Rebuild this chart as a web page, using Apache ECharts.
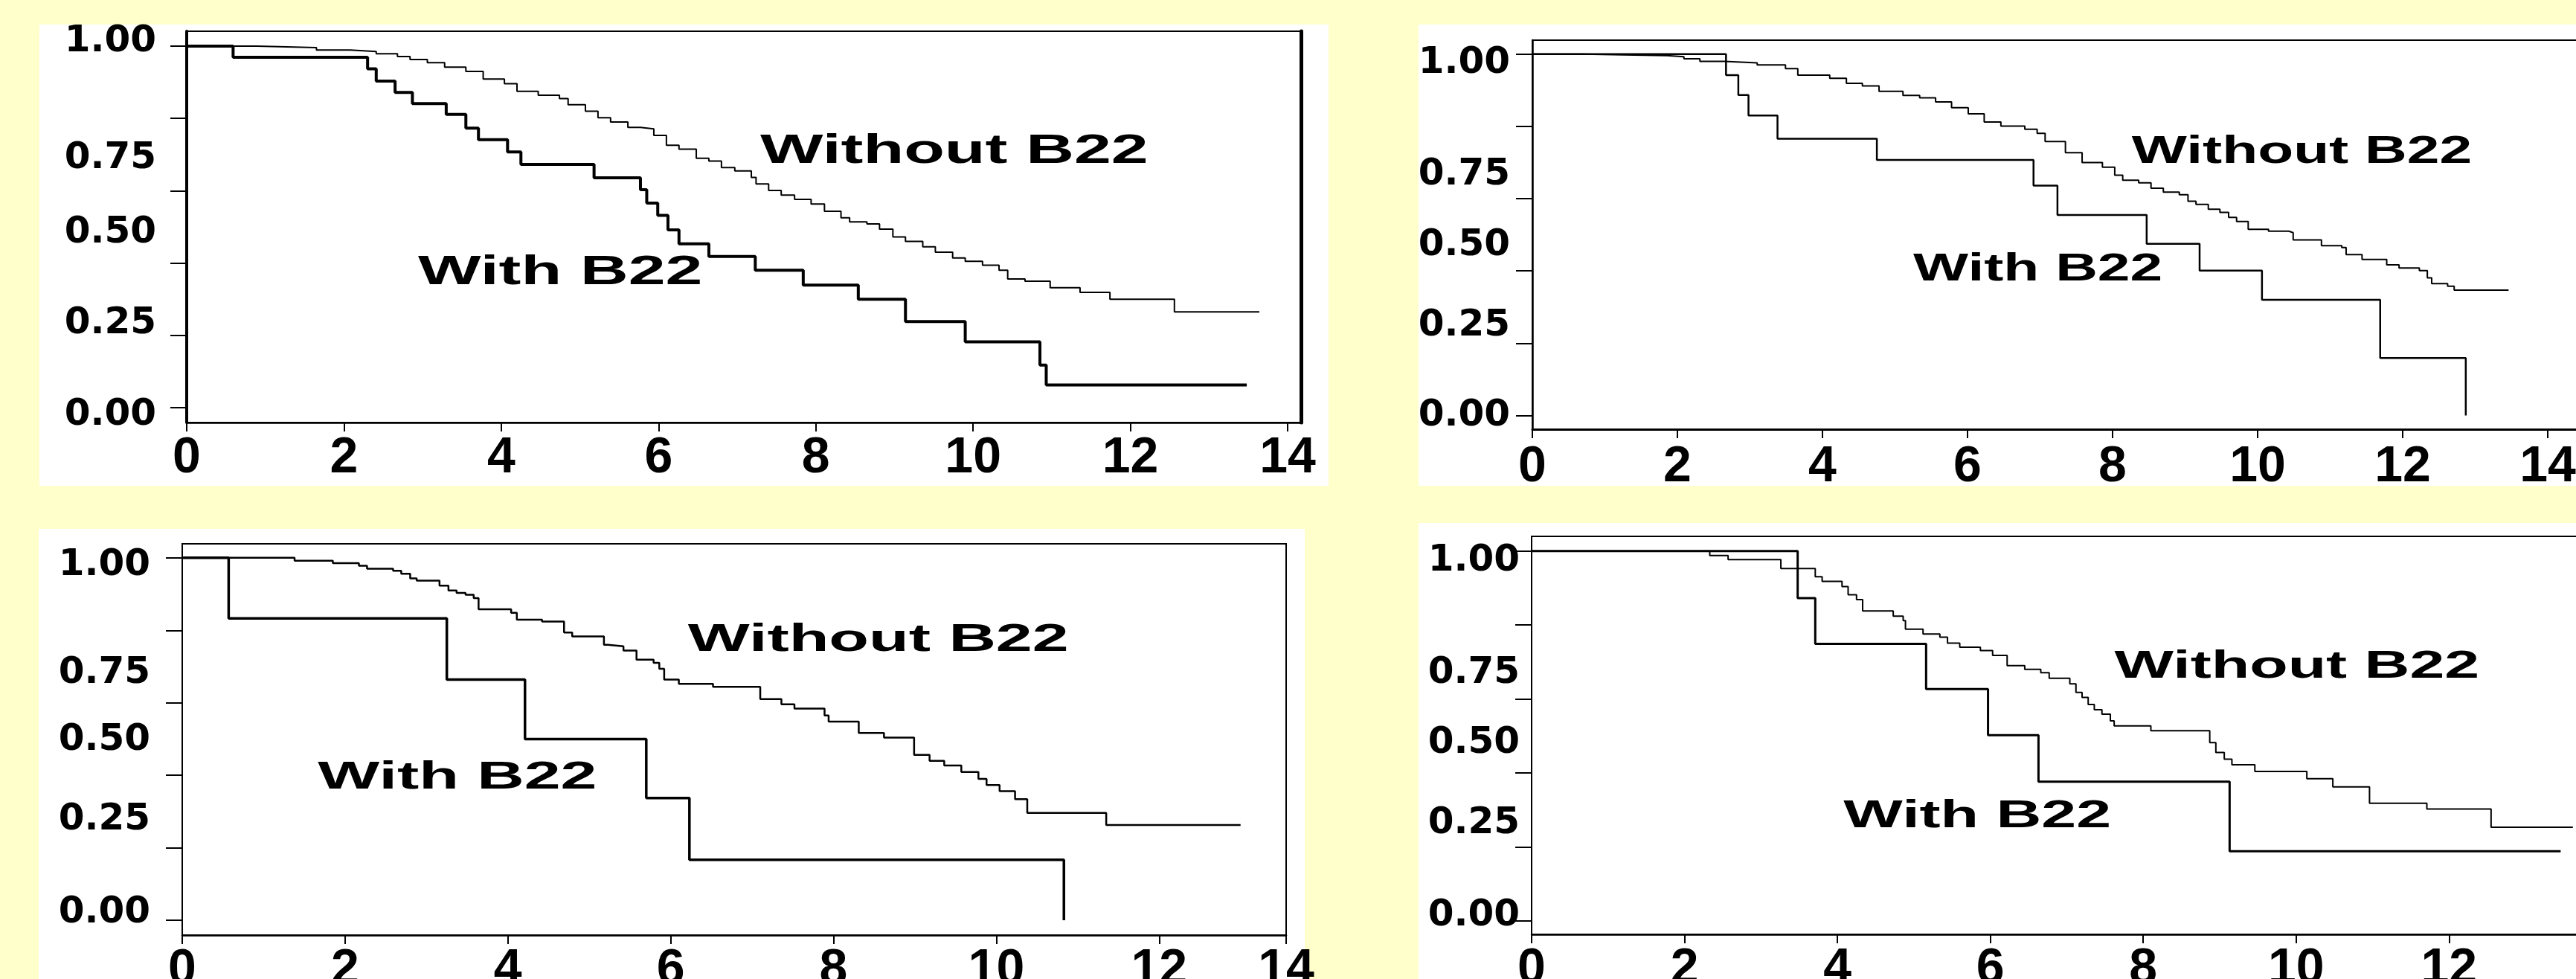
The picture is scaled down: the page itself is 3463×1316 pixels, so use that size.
<!DOCTYPE html>
<html>
<head>
<meta charset="utf-8">
<script src="https://cdn.jsdelivr.net/npm/echarts@6/dist/echarts.min.js"></script>
<style>
html,body{margin:0;padding:0;background:#FFFFCC;overflow:hidden;}
#chart{width:3463px;height:1316px;}
</style>
</head>
<body>
<div id="chart"></div>
<script>
// ---------------- DATA ----------------
const xTickValues = [0, 2, 4, 6, 8, 10, 12, 14];
const xTickLabels = ['0', '2', '4', '6', '8', '10', '12', '14'];
const yTickValues = [0, 0.2, 0.4, 0.6, 0.8, 1.0];
const yTickLabels = ['1.00', '0.75', '0.50', '0.25', '0.00'];
const annotationTexts = ['Without B22', 'With B22'];

// Panel 1 (top-left): [time, survival]
const p1Without = [[0,1.000],[0.89,0.996],[1.65,0.989],[2.08,0.985],[2.41,0.979],[2.68,0.971],[2.84,0.963],[3.06,0.954],[3.28,0.942],[3.55,0.930],[3.77,0.909],[4.04,0.896],[4.20,0.875],[4.47,0.864],[4.74,0.855],[4.85,0.838],[5.07,0.820],[5.23,0.802],[5.39,0.790],[5.61,0.775],[5.77,0.771],[5.94,0.753],[6.10,0.726],[6.26,0.715],[6.48,0.690],[6.64,0.682],[6.80,0.664],[6.97,0.655],[7.18,0.637],[7.24,0.619],[7.40,0.601],[7.56,0.588],[7.73,0.576],[7.94,0.563],[8.11,0.543],[8.32,0.525],[8.43,0.514],[8.65,0.508],[8.81,0.494],[8.98,0.472],[9.14,0.460],[9.36,0.445],[9.52,0.430],[9.74,0.414],[9.90,0.405],[10.12,0.394],[10.33,0.380],[10.44,0.356],[10.66,0.350],[10.98,0.332],[11.36,0.319],[11.74,0.300],[12.56,0.265],[13.64,0.265]];
const p1With = [[0,1.000],[0.59,0.969],[2.30,0.937],[2.41,0.903],[2.65,0.872],[2.87,0.841],[3.30,0.811],[3.55,0.773],[3.71,0.741],[4.08,0.707],[4.25,0.673],[5.18,0.636],[5.77,0.603],[5.85,0.566],[5.99,0.532],[6.12,0.492],[6.26,0.453],[6.64,0.418],[7.23,0.380],[7.84,0.339],[8.54,0.300],[9.14,0.238],[9.90,0.182],[10.85,0.118],[10.93,0.063],[13.48,0.063]];

// Panel 2 (top-right)
const p2Without = [[0,1.000],[0.69,0.998],[1.25,0.996],[1.86,0.993],[2.09,0.987],[2.31,0.980],[2.65,0.976],[3.10,0.970],[3.49,0.960],[3.66,0.942],[4.10,0.933],[4.33,0.919],[4.55,0.912],[4.78,0.897],[5.11,0.886],[5.34,0.879],[5.56,0.868],[5.78,0.852],[6.01,0.835],[6.23,0.812],[6.46,0.801],[6.79,0.792],[6.96,0.781],[7.07,0.758],[7.35,0.727],[7.58,0.700],[7.86,0.687],[8.03,0.665],[8.14,0.651],[8.36,0.644],[8.53,0.629],[8.70,0.618],[8.92,0.611],[9.04,0.593],[9.15,0.584],[9.32,0.571],[9.48,0.562],[9.60,0.548],[9.71,0.537],[9.87,0.515],[10.15,0.510],[10.43,0.506],[10.49,0.486],[10.88,0.470],[11.16,0.465],[11.22,0.445],[11.44,0.432],[11.78,0.417],[11.95,0.408],[12.23,0.401],[12.34,0.381],[12.40,0.365],[12.62,0.358],[12.71,0.347],[13.46,0.347]];
const p2With = [[0,1.000],[2.67,0.942],[2.84,0.887],[2.98,0.830],[3.38,0.766],[4.75,0.707],[6.91,0.636],[7.24,0.555],[8.47,0.475],[9.20,0.401],[10.06,0.320],[11.69,0.159],[12.87,0.000]];

// Panel 3 (bottom-left)
const p3Without = [[0,1.000],[1.38,0.992],[1.85,0.985],[2.17,0.978],[2.27,0.970],[2.59,0.964],[2.69,0.956],[2.80,0.943],[2.88,0.937],[3.16,0.923],[3.27,0.910],[3.37,0.903],[3.48,0.898],[3.58,0.889],[3.64,0.858],[4.04,0.848],[4.11,0.829],[4.42,0.824],[4.69,0.794],[4.79,0.783],[5.18,0.760],[5.23,0.756],[5.42,0.744],[5.58,0.719],[5.79,0.710],[5.86,0.694],[5.92,0.664],[6.10,0.652],[6.52,0.644],[7.10,0.610],[7.36,0.596],[7.52,0.584],[7.89,0.565],[7.94,0.548],[8.31,0.517],[8.62,0.504],[8.99,0.456],[9.18,0.440],[9.36,0.427],[9.57,0.409],[9.78,0.390],[9.88,0.373],[10.04,0.356],[10.23,0.334],[10.38,0.296],[11.35,0.263],[13.00,0.263]];
const p3With = [[0,1.000],[0.57,0.833],[3.25,0.664],[4.21,0.500],[5.70,0.337],[6.23,0.167],[10.83,0.000]];

// Panel 4 (bottom-right)
const p4Without = [[0,1.000],[2.33,0.988],[2.57,0.977],[3.26,0.953],[3.71,0.931],[3.80,0.918],[4.06,0.904],[4.14,0.882],[4.25,0.869],[4.33,0.838],[4.73,0.824],[4.86,0.812],[4.89,0.789],[5.12,0.776],[5.34,0.767],[5.44,0.751],[5.60,0.740],[5.87,0.731],[6.03,0.718],[6.22,0.690],[6.45,0.680],[6.66,0.671],[6.77,0.656],[7.04,0.641],[7.12,0.618],[7.20,0.604],[7.28,0.585],[7.36,0.571],[7.46,0.559],[7.57,0.541],[7.62,0.527],[8.10,0.514],[8.87,0.482],[8.95,0.455],[9.06,0.437],[9.16,0.422],[9.46,0.404],[10.14,0.384],[10.48,0.362],[10.96,0.318],[11.71,0.302],[12.55,0.253],[13.62,0.253]];
const p4With = [[0,1.000],[3.48,0.873],[3.71,0.749],[5.16,0.627],[5.97,0.502],[6.63,0.376],[9.13,0.188],[13.46,0.188]];

// ---------------- LAYOUT / STYLE ----------------
const panels = [
  { without: p1Without, withB: p1With,
    box: [53, 33, 1733, 620], grid: {left: 251, top: 42, width: 1498, height: 526},
    xMax: 14.17, yMin: -0.041, yMax: 1.041,
    xTickAt: [0,2,4,6,8,10,12,14], xLabelAt: [0,2,4,6,8,10,12,14],
    yLabelAt: [1.012, 0.689, 0.484, 0.233, -0.021], yLabelMargin: 41, xLabelMargin: 14,
    leftW: 4, bottomW: 2.5, rightThick: 5, widths: [2, 4],
    annotAt: [[9.76, 0.708], [4.75, 0.374]], annotFont: 56, annotScale: 1.60 },
  { without: p2Without, withB: p2With,
    box: [1907, 33, 1600, 620], grid: {left: 2060, top: 54, width: 1443, height: 523},
    xMax: 14.8, yMin: -0.038, yMax: 1.0386,
    xTickAt: [0,2,4,6,8,10,12,14], xLabelAt: [0,2,4,6,8,10,12,14],
    yLabelAt: [0.975, 0.667, 0.470, 0.249, -0.002], yLabelMargin: 30, xLabelMargin: 17,
    leftW: 2.5, bottomW: 3, rightThick: 0, widths: [2, 2.5],
    annotAt: [[10.61, 0.729], [6.97, 0.403]], annotFont: 52, annotScale: 1.51 },
  { without: p3Without, withB: p3With,
    box: [52, 711, 1702, 620], grid: {left: 245, top: 731, width: 1484, height: 526},
    xMax: 13.56, yMin: -0.041, yMax: 1.0386,
    xTickAt: [0,2,4,6,8,10,12,13.56], xLabelAt: [0,2,4,6,8,10,12,13.56],
    yLabelAt: [0.979, 0.682, 0.497, 0.278, 0.021], yLabelMargin: 43, xLabelMargin: 13,
    leftW: 2, bottomW: 2.5, rightThick: 0, widths: [2.5, 3.5],
    annotAt: [[8.55, 0.772], [3.38, 0.392]], annotFont: 52, annotScale: 1.69 },
  { without: p4Without, withB: p4With,
    box: [1907, 703, 1600, 620], grid: {left: 2059, top: 721, width: 1444, height: 535},
    xMax: 14.05, yMin: -0.037, yMax: 1.040,
    xTickAt: [0,2,4,6,8,10,12,14], xLabelAt: [0,2,4,6,8,10,12,14],
    yLabelAt: [0.973, 0.670, 0.480, 0.263, 0.013], yLabelMargin: 16, xLabelMargin: 13,
    leftW: 2, bottomW: 2.5, rightThick: 0, widths: [2, 3],
    annotAt: [[10.01, 0.686], [5.83, 0.281]], annotFont: 52, annotScale: 1.62 }
];

function nearestLabel(v, positions, labels) {
  let best = 0, bd = Infinity;
  positions.forEach((p, i) => { const d = Math.abs(p - v); if (d < bd) { bd = d; best = i; } });
  return labels[best];
}

const option = {
  backgroundColor: '#FFFFCC',
  animation: false,
  graphic: [],
  grid: [], xAxis: [], yAxis: [], series: []
};

panels.forEach((p, i) => {
  option.graphic.push({
    type: 'rect', z: -100, silent: true,
    shape: {x: p.box[0], y: p.box[1], width: p.box[2], height: p.box[3]},
    style: {fill: '#FFFFFF'}
  });
  option.grid.push(Object.assign({
    show: true, borderColor: '#000', borderWidth: 2, backgroundColor: 'transparent',
    containLabel: false, outerBoundsMode: 'none'
  }, p.grid));
  const xi = option.xAxis.length;
  option.xAxis.push({
    gridIndex: i, type: 'value', min: 0, max: p.xMax,
    axisLine: {show: true, onZero: false, lineStyle: {color: '#000', width: p.bottomW}},
    axisTick: {show: true, length: 12, customValues: p.xTickAt, lineStyle: {color: '#000', width: 2}},
    axisLabel: {
      show: true, customValues: p.xLabelAt, margin: p.xLabelMargin,
      formatter: v => nearestLabel(v, p.xLabelAt, xTickLabels),
      color: '#000', fontSize: 68, fontWeight: 'bold',
      fontFamily: '"Liberation Sans Narrow", "Liberation Sans", Arial, sans-serif'
    },
    splitLine: {show: false}
  });
  const yi = option.yAxis.length;
  option.yAxis.push({
    gridIndex: i, type: 'value', min: p.yMin, max: p.yMax,
    axisLine: {show: true, onZero: false, lineStyle: {color: '#000', width: p.leftW}},
    axisTick: {show: true, length: 22, customValues: yTickValues, lineStyle: {color: '#000', width: 2}},
    axisLabel: {
      show: true, customValues: p.yLabelAt, margin: p.yLabelMargin,
      formatter: v => nearestLabel(v, p.yLabelAt, yTickLabels),
      color: '#000', fontSize: 50, fontWeight: 'bold',
      fontFamily: '"DejaVu Sans", Verdana, sans-serif'
    },
    splitLine: {show: false}
  });
  if (p.rightThick) {
    option.yAxis.push({
      gridIndex: i, type: 'value', position: 'right', min: p.yMin, max: p.yMax,
      axisLine: {show: true, onZero: false, lineStyle: {color: '#000', width: p.rightThick}},
      axisTick: {show: false}, axisLabel: {show: false}, splitLine: {show: false}
    });
  }
  option.series.push({
    name: annotationTexts[0], type: 'line', step: 'end', xAxisIndex: xi, yAxisIndex: yi,
    data: p.without, showSymbol: false, symbol: 'none', silent: true,
    lineStyle: {color: '#000', width: p.widths[0]}, z: 3
  });
  option.series.push({
    name: annotationTexts[1], type: 'line', step: 'end', xAxisIndex: xi, yAxisIndex: yi,
    data: p.withB, showSymbol: false, symbol: 'none', silent: true,
    lineStyle: {color: '#000', width: p.widths[1]}, z: 4
  });
  option.series.push({
    type: 'custom', xAxisIndex: xi, yAxisIndex: yi, silent: true, z: 6,
    data: p.annotAt.map((a, k) => [a[0], a[1], k]),
    renderItem: (params, api) => {
      const pt = api.coord([api.value(0), api.value(1)]);
      return {
        type: 'text', x: pt[0], y: pt[1], scaleX: p.annotScale,
        style: {
          text: annotationTexts[api.value(2)], fill: '#000',
          font: 'bold ' + p.annotFont + 'px "Liberation Sans", Arial, sans-serif',
          align: 'center', verticalAlign: 'middle',
          textAlign: 'center', textVerticalAlign: 'middle'
        }
      };
    }
  });
});

const chart = echarts.init(document.getElementById('chart'), null, {width: 3463, height: 1316});
chart.setOption(option);
</script>
</body>
</html>
